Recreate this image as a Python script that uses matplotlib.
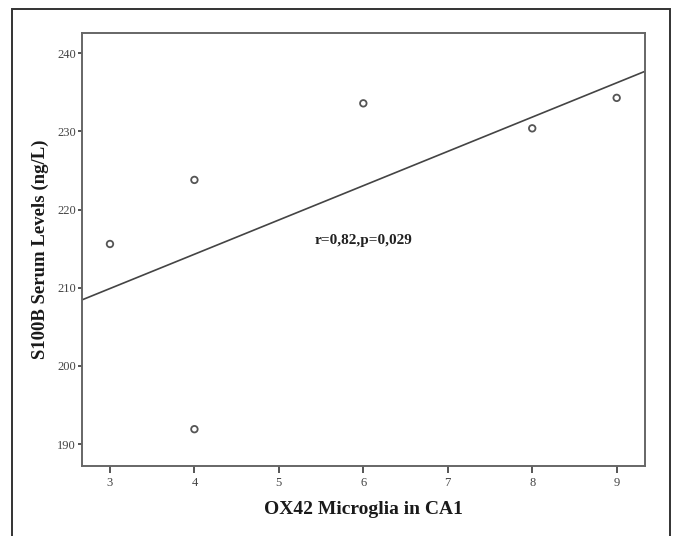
import matplotlib
matplotlib.use('Agg')
import matplotlib.pyplot as plt
import numpy as np

# OX42 microglia count vs S100B serum level
microglia = [3, 4, 4, 6, 8, 9]
s100b = [215.6, 223.8, 191.9, 233.6, 230.4, 234.3]
x_ticks = [3, 4, 5, 6, 7, 8, 9]
y_ticks = [190, 200, 210, 220, 230, 240]
stat_text = 'r=0,82,p=0,029'

plt.rcParams['font.family'] = ['Liberation Serif', 'DejaVu Serif']

fig = plt.figure(figsize=(6.75, 5.36), dpi=100)
ax = fig.add_axes([0.121, 0.1315, 0.8345, 0.8075])

# outer frame of the figure panel
frame = plt.Rectangle((12 / 675, -0.02), (670 - 12) / 675, 1.02 - 9 / 536,
                      transform=fig.transFigure, fill=False,
                      edgecolor='#333333', linewidth=1.4, clip_on=False)
fig.patches.append(frame)

xlim = (2.665, 9.335)
ax.scatter(microglia, s100b, s=22, facecolors='none', edgecolors='#555555',
           linewidths=1.3, zorder=3)

# least squares fit line across the whole axis
slope, intercept = np.polyfit(microglia, s100b, 1)
xs = np.array(xlim)
ax.plot(xs, slope * xs + intercept, color='#444444', linewidth=1.2)

ax.text(6.0, 216.0, stat_text, ha='center', va='center', fontsize=11,
        fontweight='bold', color='#222222')

ax.set_xlim(*xlim)
ax.set_ylim(187.25, 242.64)
ax.set_xticks(x_ticks)
ax.set_yticks(y_ticks)
ax.tick_params(axis='x', direction='out', length=5, width=1.4,
               color='#555555', labelsize=9, labelcolor='#444444', pad=3)
ax.tick_params(axis='y', direction='out', length=3, width=1.4,
               color='#555555', labelsize=9, labelcolor='#444444', pad=1)
for sp in ax.spines.values():
    sp.set_color('#666666')
    sp.set_linewidth(1.4)

ax.set_xlabel('OX42 Microglia in CA1', fontsize=14, fontweight='bold',
              color='#1a1a1a', labelpad=9)
ax.set_ylabel('S100B Serum Levels (ng/L)', fontsize=13.5, fontweight='bold',
              color='#1a1a1a', labelpad=6)

fig.savefig('out.png', dpi=100)
